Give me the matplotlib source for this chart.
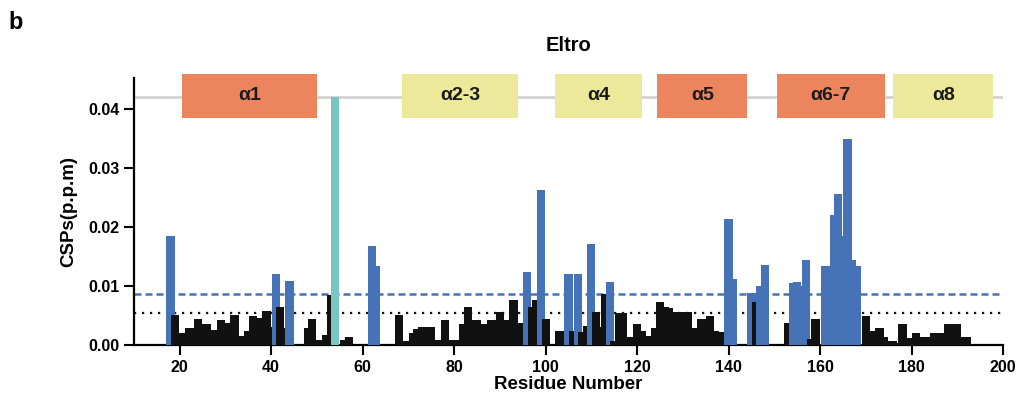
import numpy as np
import matplotlib
matplotlib.use("Agg")
import matplotlib.pyplot as plt
from matplotlib.patches import Rectangle

plt.rcParams['font.family'] = ['Liberation Sans', 'DejaVu Sans']
plt.rcParams['font.weight'] = 'bold'

# CSP per residue, residues 17..192
residues = np.arange(17, 193)
csp = [
    0.0, 0.0185, 0.0050, 0.0020, 0.0020, 0.0028, 0.0028, 0.0044, 0.0035, 0.0035,   # 17-26
    0.0026, 0.0026, 0.0042, 0.0038, 0.0038, 0.0050, 0.0015, 0.0015, 0.0024, 0.0049,  # 27-36
    0.0045, 0.0045, 0.0057, 0.0030, 0.0121, 0.0064, 0.0028, 0.0108, 0.0, 0.0,       # 37-46
    0.0, 0.0029, 0.0044, 0.0008, 0.0008, 0.0017, 0.0084, 0.0420, 0.0, 0.0008,        # 47-56
    0.0014, 0.0, 0.0, 0.0, 0.0, 0.0168, 0.0134, 0.0, 0.0, 0.0,                       # 57-66
    0.0, 0.0051, 0.0007, 0.0007, 0.0021, 0.0027, 0.0030, 0.0030, 0.0030, 0.0008,     # 67-76
    0.0008, 0.0042, 0.0008, 0.0008, 0.0008, 0.0036, 0.0064, 0.0042, 0.0042, 0.0036,  # 77-86
    0.0036, 0.0042, 0.0042, 0.0056, 0.0042, 0.0042, 0.0077, 0.0038, 0.0038, 0.0123,  # 87-96
    0.0065, 0.0077, 0.0262, 0.0044, 0.0, 0.0, 0.0023, 0.0023, 0.0120, 0.0023,        # 97-106
    0.0120, 0.0022, 0.0032, 0.0171, 0.0056, 0.0030, 0.0086, 0.0107, 0.0007, 0.0055,  # 107-116
    0.0055, 0.0013, 0.0013, 0.0036, 0.0024, 0.0015, 0.0015, 0.0028, 0.0072, 0.0064,  # 117-126
    0.0062, 0.0056, 0.0056, 0.0056, 0.0056, 0.0028, 0.0028, 0.0044, 0.0044, 0.0049,  # 127-136
    0.0024, 0.0022, 0.0010, 0.0214, 0.0111, 0.0, 0.0, 0.0, 0.0088, 0.0072,           # 137-146
    0.0100, 0.0136, 0.0, 0.0, 0.0, 0.0, 0.0037, 0.0105, 0.0106, 0.0100,              # 147-156
    0.0144, 0.0011, 0.0044, 0.0, 0.0134, 0.0134, 0.0220, 0.0256, 0.0185, 0.0349,     # 157-166
    0.0144, 0.0134, 0.0, 0.0049, 0.0024, 0.0024, 0.0028, 0.0014, 0.0007, 0.0007,     # 167-176
    0.0003, 0.0036, 0.0012, 0.0012, 0.0021, 0.0014, 0.0014, 0.0014, 0.0021, 0.0021,  # 177-186
    0.0021, 0.0036, 0.0036, 0.0036, 0.0014, 0.0014,                                  # 187-192
]

cutoff_sd = 0.0087     # dashed line
cutoff_mean = 0.0055   # dotted line
highlight = 54
top_line = 0.042

# secondary structure boxes
helix_start = [20.6, 68.7, 102.0, 124.4, 150.5, 176.0]
helix_end = [50.0, 93.9, 121.1, 144.1, 174.2, 197.9]
helix_label = ['α1', 'α2-3', 'α4', 'α5', 'α6-7', 'α8']
helix_kind = ['o', 'y', 'y', 'o', 'o', 'y']

blue = '#4672b8'
teal = '#79c6c0'
orange = '#ec855d'
yellow = '#ede99b'

fig = plt.figure(figsize=(10.21, 4.04), dpi=100)
ax = fig.add_axes([0.1312, 0.146, 0.8512, 0.661])

colors = []
for r, v in zip(residues, csp):
    if r == highlight:
        colors.append(teal)
    elif v > cutoff_sd:
        colors.append(blue)
    else:
        colors.append('#111111')

# bars drawn one after another so later ones overlap the previous
for r, v, c in zip(residues, csp, colors):
    if v > 0:
        ax.bar(r, v, width=1.8, color=c, edgecolor='none', zorder=3)

ax.axhline(cutoff_sd, color=blue, lw=1.8, dashes=(2.8, 1.6), zorder=2)
ax.axhline(cutoff_mean, color='#111111', lw=1.6, dashes=(1, 2.6), zorder=2)
ax.axhline(top_line, color='#d3d3d3', lw=2, zorder=1)

box_top = 0.0459
box_bot = 0.0385
for s, e, lab, k in zip(helix_start, helix_end, helix_label, helix_kind):
    fc = orange if k == 'o' else yellow
    ax.add_patch(Rectangle((s, box_bot), e - s, box_top - box_bot, facecolor=fc,
                           edgecolor='none', zorder=4, clip_on=False))
    ax.text((s + e) / 2, (box_top + box_bot) / 2, lab, ha='center', va='center',
            fontsize=14, fontweight='bold', color='#1a1a1a', zorder=5)

ax.set_xlim(10, 200)
ax.set_ylim(0, 0.0452)
ax.set_xticks(np.arange(20, 201, 20))
ax.set_yticks([0.0, 0.01, 0.02, 0.03, 0.04])
ax.set_yticklabels(['0.00', '0.01', '0.02', '0.03', '0.04'])
ax.tick_params(axis='both', labelsize=11.5, width=1.5, length=7, direction='out')
for t in ax.get_xticklabels() + ax.get_yticklabels():
    t.set_fontweight('bold')
for side in ['top', 'right']:
    ax.spines[side].set_visible(False)
for side in ['left', 'bottom']:
    ax.spines[side].set_linewidth(1.6)

ax.set_xlabel('Residue Number', fontsize=13.5, fontweight='bold', labelpad=1)
ax.set_ylabel('CSPs(p.p.m)', fontsize=13.5, fontweight='bold', labelpad=8)

fig.text(0.5565, 0.888, 'Eltro', ha='center', va='center', fontsize=14.5, fontweight='bold')
fig.text(0.008, 0.945, 'b', ha='left', va='center', fontsize=17, fontweight='bold')

fig.savefig('out.png', dpi=100)
